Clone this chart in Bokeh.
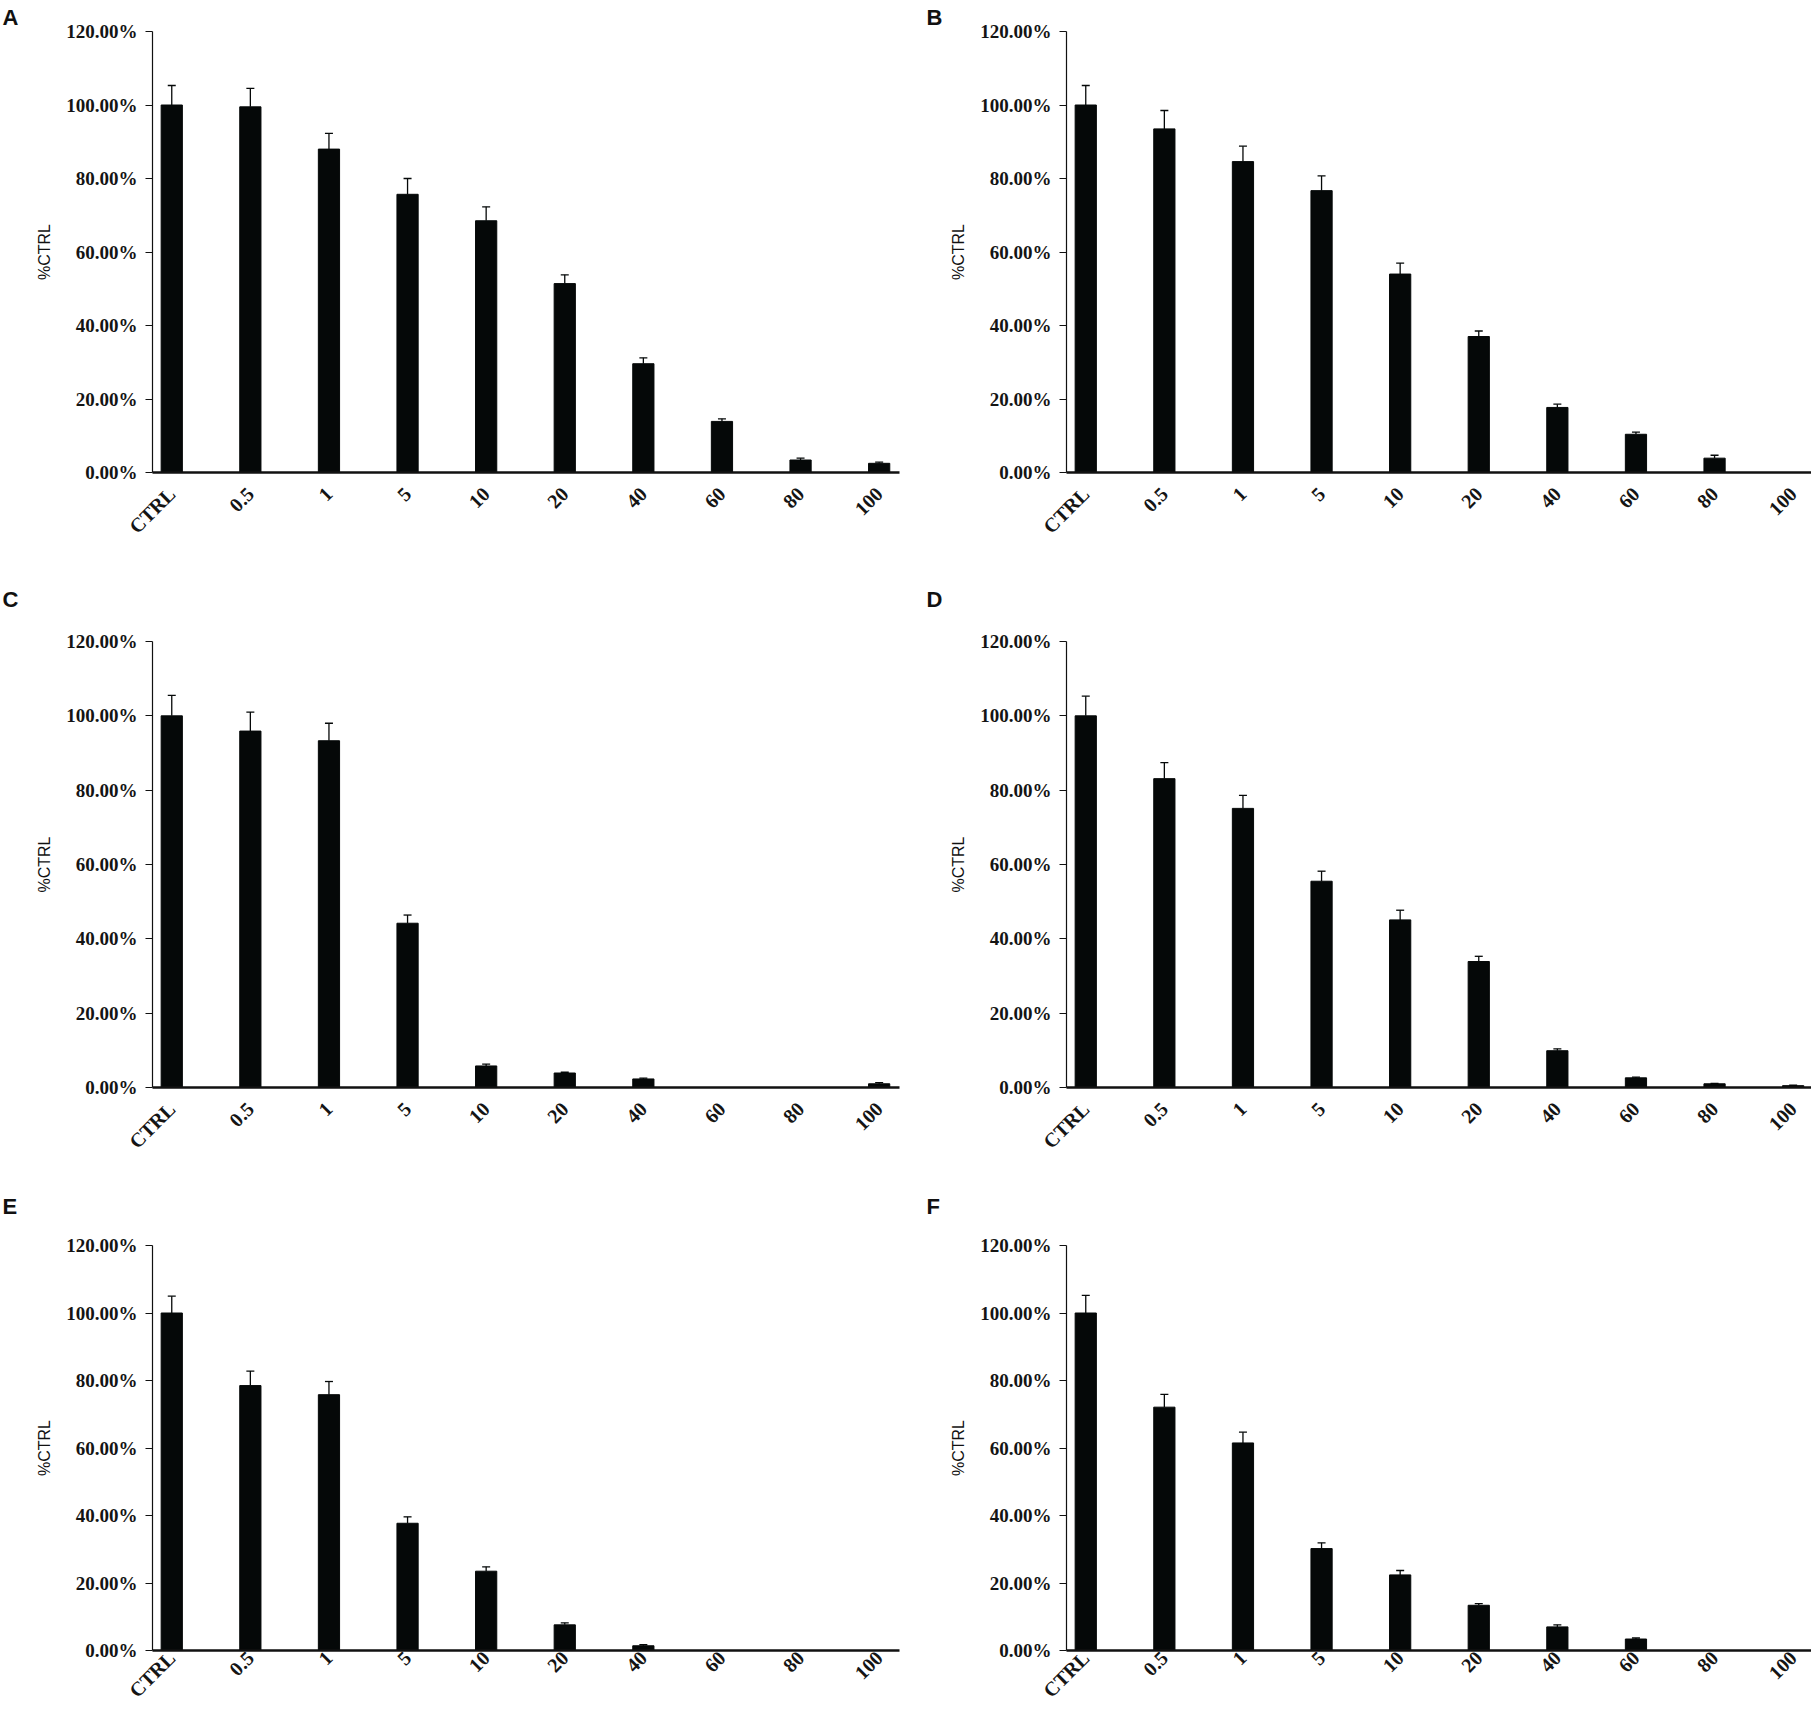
import math
from bokeh.plotting import figure
from bokeh.layouts import column, row
from bokeh.models import (Range1d, FixedTicker, NumeralTickFormatter, Whisker,
                          TeeHead, ColumnDataSource, Title)
from bokeh.embed import file_html
from bokeh.resources import INLINE

# ---------------- data ----------------
categories = ["CTRL", "0.5", "1", "5", "10", "20", "40", "60", "80", "100"]
y_ticks = [0.0, 0.2, 0.4, 0.6, 0.8, 1.0, 1.2]

A_mean = [1.000, 0.995, 0.880, 0.757, 0.685, 0.514, 0.296, 0.139, 0.034, 0.025]
A_err = [0.053, 0.050, 0.043, 0.043, 0.038, 0.024, 0.016, 0.007, 0.005, 0.003]

B_mean = [1.000, 0.935, 0.846, 0.767, 0.540, 0.370, 0.177, 0.104, 0.039, 0.000]
B_err = [0.053, 0.050, 0.042, 0.040, 0.030, 0.015, 0.009, 0.006, 0.008, 0.000]

C_mean = [1.000, 0.959, 0.933, 0.442, 0.058, 0.039, 0.023, 0.000, 0.000, 0.010]
C_err = [0.055, 0.051, 0.047, 0.022, 0.005, 0.002, 0.002, 0.000, 0.000, 0.003]

D_mean = [1.000, 0.831, 0.751, 0.555, 0.451, 0.339, 0.099, 0.026, 0.010, 0.005]
D_err = [0.053, 0.043, 0.035, 0.027, 0.026, 0.014, 0.005, 0.002, 0.001, 0.001]

E_mean = [1.000, 0.785, 0.758, 0.377, 0.235, 0.076, 0.014, 0.000, 0.000, 0.000]
E_err = [0.050, 0.043, 0.039, 0.019, 0.013, 0.006, 0.003, 0.000, 0.000, 0.000]

F_mean = [1.000, 0.721, 0.615, 0.302, 0.224, 0.134, 0.070, 0.034, 0.000, 0.000]
F_err = [0.052, 0.038, 0.032, 0.017, 0.013, 0.005, 0.006, 0.003, 0.000, 0.000]

y_label = "%CTRL"

# ---------------- styling / layout ----------------
BAR = "#050808"
PX_PER_CAT = 78.6
X_START = -0.245
SERIF = "Liberation Serif"
SANS = "Liberation Sans"


def make_panel(letter, means, errs, width, height, left, right, top, bottom,
               letter_offset, letter_standoff, xlab_standoff=18):
    frame_w = width - left - right
    x_end = X_START + frame_w / PX_PER_CAT
    p = figure(width=width, height=height,
               x_range=Range1d(X_START, x_end), y_range=Range1d(0, 1.2),
               output_backend="svg", toolbar_location=None,
               min_border_left=left, min_border_right=right,
               min_border_top=top, min_border_bottom=bottom)
    p.outline_line_color = None
    p.xgrid.visible = False
    p.ygrid.visible = False
    p.background_fill_color = "white"
    p.border_fill_color = "white"

    # panel letter as title
    p.title = Title(text=letter, align="left", offset=letter_offset,
                    standoff=letter_standoff, text_font=SANS,
                    text_font_style="bold", text_font_size="22px",
                    text_line_height=0.8, text_color="#111111")

    idx = list(range(len(categories)))
    bars = ColumnDataSource(dict(
        x=[i for i, m in zip(idx, means) if m > 0],
        top=[m for m in means if m > 0]))
    p.vbar(x="x", top="top", width=0.27, source=bars,
           fill_color=BAR, line_color=BAR, line_width=1)

    wsrc = ColumnDataSource(dict(
        x=[i for i, e in zip(idx, errs) if e > 0],
        lower=[m for m, e in zip(means, errs) if e > 0],
        upper=[m + e for m, e in zip(means, errs) if e > 0]))
    p.add_layout(Whisker(base="x", lower="lower", upper="upper", source=wsrc,
                         line_color=BAR, line_width=1.3, lower_head=None,
                         upper_head=TeeHead(size=8, line_color=BAR, line_width=1.3)))

    # y axis
    ya = p.yaxis[0]
    ya.ticker = FixedTicker(ticks=y_ticks)
    ya.formatter = NumeralTickFormatter(format="0.00%")
    ya.minor_tick_line_color = None
    ya.major_tick_in = 0
    ya.major_tick_out = 7
    ya.major_tick_line_width = 1.2
    ya.axis_line_width = 1.2
    ya.axis_line_color = "#111111"
    ya.major_tick_line_color = "#111111"
    ya.major_label_text_font = SERIF
    ya.major_label_text_font_style = "bold"
    ya.major_label_text_font_size = "19px"
    ya.major_label_text_color = "#141414"
    ya.major_label_standoff = 8
    ya.axis_label = y_label
    ya.axis_label_text_font = SANS
    ya.axis_label_text_font_style = "normal"
    ya.axis_label_text_font_size = "16px"
    ya.axis_label_text_color = "#111111"
    ya.axis_label_standoff = 10

    # x axis
    xa = p.xaxis[0]
    xa.ticker = FixedTicker(ticks=idx)
    xa.major_label_overrides = {i: c for i, c in zip(idx, categories)}
    xa.minor_tick_line_color = None
    xa.major_tick_in = 0
    xa.major_tick_out = 0
    xa.axis_line_width = 2.6
    xa.axis_line_color = "#111111"
    xa.major_label_orientation = math.pi / 4
    xa.major_label_text_font = SERIF
    xa.major_label_text_font_style = "bold"
    xa.major_label_text_font_size = "20px"
    xa.major_label_text_line_height = 0.9
    xa.major_label_text_color = "#141414"
    xa.major_label_standoff = xlab_standoff
    return p


LW, RW = 905, 906
H1, H2, H3 = 549, 615, 549
pA = make_panel("A", A_mean, A_err, LW, H1, 152, 6, 31, 77, -150, 4)
pB = make_panel("B", B_mean, B_err, RW, H1, 161, 0, 31, 77, -140, 4)
pC = make_panel("C", C_mean, C_err, LW, H2, 152, 6, 92, 77, -150, 60)
pD = make_panel("D", D_mean, D_err, RW, H2, 161, 0, 92, 77, -140, 60)
pE = make_panel("E", E_mean, E_err, LW, H3, 152, 6, 79, 63, -150, 54, 4)
pF = make_panel("F", F_mean, F_err, RW, H3, 161, 0, 79, 63, -140, 54, 4)

layout = column(row(pA, pB), row(pC, pD), row(pE, pF))

with open("out.html", "w") as f:
    f.write(file_html(layout, INLINE))
